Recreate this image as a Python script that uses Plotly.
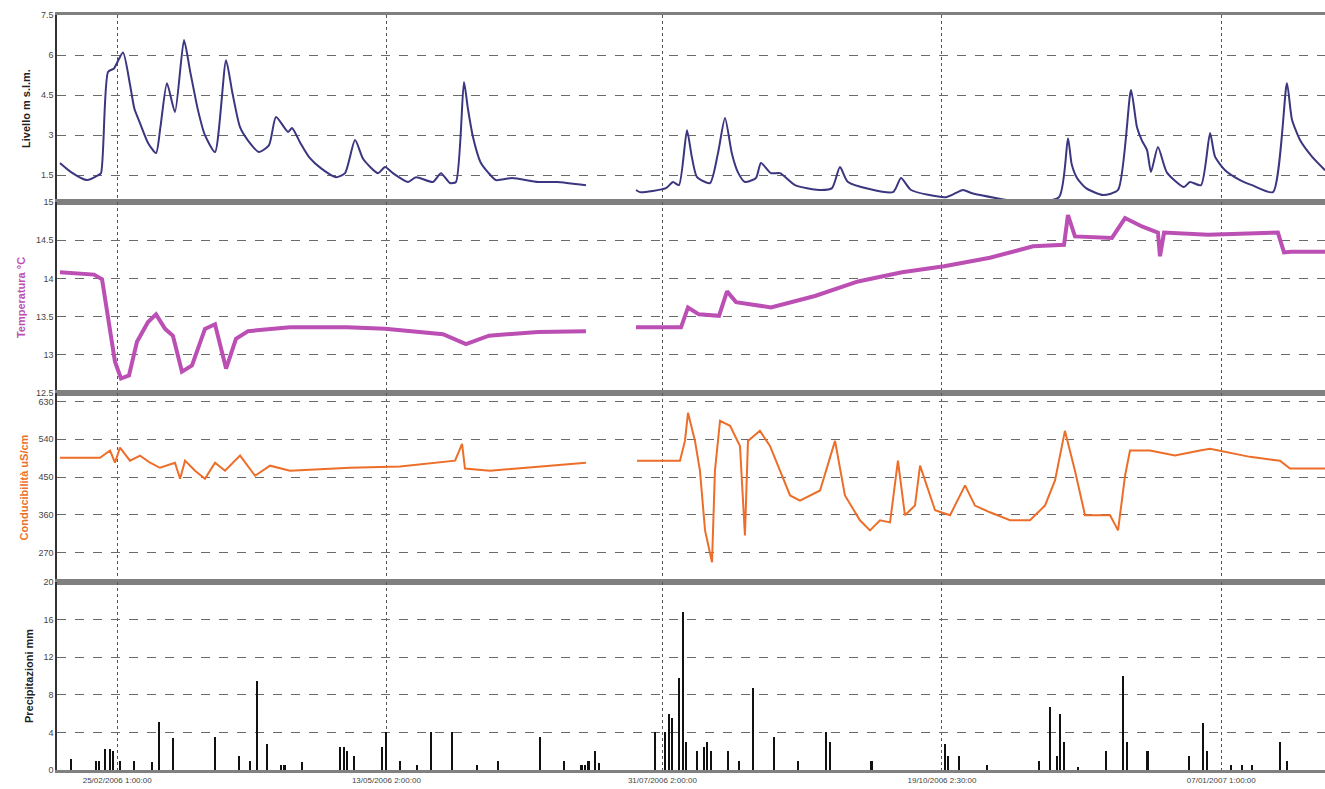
import plotly.graph_objects as go
from plotly.subplots import make_subplots

# ---- Livello (m s.l.m.) ----
liv_date_a = ["2006-02-08 16:00", "2006-02-11 20:00", "2006-02-16 10:00", "2006-02-19 13:00",
              "2006-02-20 10:00", "2006-02-22 10:00", "2006-02-24 03:00", "2006-02-26 17:00",
              "2006-02-28 17:00", "2006-03-01 23:00", "2006-03-03 14:00", "2006-03-05 22:00",
              "2006-03-08 04:00", "2006-03-09 10:00", "2006-03-11 07:00", "2006-03-13 14:00",
              "2006-03-16 04:00", "2006-03-17 22:00", "2006-03-20 04:00", "2006-03-22 04:00",
              "2006-03-25 01:00", "2006-03-28 05:00", "2006-03-30 00:00", "2006-04-01 05:00",
              "2006-04-03 12:00", "2006-04-06 15:00", "2006-04-09 12:00", "2006-04-11 12:00",
              "2006-04-14 23:00", "2006-04-16 02:00", "2006-04-18 12:00", "2006-04-20 23:00",
              "2006-04-24 12:00", "2006-04-28 16:00", "2006-05-01 06:00", "2006-05-04 03:00",
              "2006-05-06 12:00", "2006-05-10 17:00", "2006-05-12 17:00", "2006-05-14 23:00",
              "2006-05-19 07:00", "2006-05-21 14:00", "2006-05-26 10:00", "2006-05-28 17:00",
              "2006-05-31 07:00", "2006-06-02 00:00", "2006-06-04 07:00", "2006-06-05 10:00",
              "2006-06-06 21:00", "2006-06-09 00:00", "2006-06-11 06:00", "2006-06-13 11:00",
              "2006-06-18 01:00", "2006-06-25 12:00", "2006-06-30 22:00", "2006-07-09 05:00"]
liv_val_a = [1.96, 1.62, 1.32, 1.50, 1.58, 5.37, 5.50, 6.10, 4.90, 4.00, 3.45, 2.70,
             2.33, 3.30, 4.95, 3.87, 6.56, 5.40, 3.94, 3.00, 2.37, 5.81, 4.60, 3.30,
             2.80, 2.37, 2.63, 3.68, 3.12, 3.27, 2.70, 2.18, 1.75, 1.43, 1.58, 2.82,
             2.10, 1.58, 1.81, 1.58, 1.25, 1.43, 1.25, 1.58, 1.21, 1.25, 4.99, 4.00,
             2.93, 2.00, 1.60, 1.32, 1.40, 1.25, 1.25, 1.13]
liv_date_b = ["2006-07-23 13:00", "2006-07-24 16:00", "2006-08-01 03:00", "2006-08-03 03:00",
              "2006-08-04 20:00", "2006-08-07 03:00", "2006-08-08 12:00", "2006-08-10 00:00",
              "2006-08-13 17:00", "2006-08-16 00:00", "2006-08-18 00:00", "2006-08-20 00:00",
              "2006-08-21 18:00", "2006-08-23 17:00", "2006-08-26 21:00", "2006-08-28 07:00",
              "2006-08-31 04:00", "2006-09-02 18:00", "2006-09-07 01:00", "2006-09-13 22:00",
              "2006-09-17 15:00", "2006-09-19 22:00", "2006-09-22 05:00", "2006-10-05 02:00",
              "2006-10-07 09:00", "2006-10-10 06:00", "2006-10-20 06:00", "2006-10-25 03:00",
              "2006-10-27 17:00", "2006-11-11 14:00", "2006-11-21 14:00", "2006-11-24 04:00",
              "2006-11-25 06:00", "2006-11-26 18:00", "2006-11-29 08:00", "2006-12-04 05:00",
              "2006-12-08 12:00", "2006-12-12 05:00", "2006-12-13 22:00", "2006-12-15 08:00",
              "2006-12-16 19:00", "2006-12-17 22:00", "2006-12-19 22:00", "2006-12-22 12:00",
              "2006-12-27 09:00", "2006-12-29 02:00", "2007-01-01 06:00", "2007-01-03 20:00",
              "2007-01-05 06:00", "2007-01-08 03:00", "2007-01-12 00:00", "2007-01-15 20:00",
              "2007-01-21 20:00", "2007-01-25 20:00", "2007-01-27 06:00", "2007-01-29 14:00",
              "2007-02-02 00:00", "2007-02-05 18:00"]
liv_val_b = [0.95, 0.87, 1.02, 1.25, 1.13, 3.19, 2.20, 1.43, 1.21, 2.33, 3.64, 2.30,
             1.60, 1.25, 1.40, 1.96, 1.58, 1.58, 1.13, 0.95, 1.02, 1.81, 1.25, 0.87,
             1.40, 0.95, 0.68, 0.95, 0.83, 0.50, 0.68, 2.89, 1.90, 1.40, 1.02, 0.76,
             0.95, 4.69, 3.30, 2.80, 2.44, 1.62, 2.56, 1.60, 1.06, 1.25, 1.13, 3.08,
             2.20, 1.69, 1.35, 1.13, 0.87, 4.95, 3.60, 2.82, 2.20, 1.69]

# ---- Temperatura (°C) ----
tem_date_a = ["2006-02-08 16:00", "2006-02-18 10:00", "2006-02-20 17:00", "2006-02-23 00:00",
              "2006-02-24 10:00", "2006-02-26 03:00", "2006-02-28 10:00", "2006-03-02 17:00",
              "2006-03-05 21:00", "2006-03-08 04:00", "2006-03-10 18:00", "2006-03-13 00:00",
              "2006-03-15 14:00", "2006-03-18 11:00", "2006-03-22 04:00", "2006-03-25 01:00",
              "2006-03-28 05:00", "2006-03-31 01:00", "2006-04-03 12:00", "2006-04-15 12:00",
              "2006-05-01 20:00", "2006-05-12 17:00", "2006-05-29 07:00", "2006-06-04 21:00",
              "2006-06-11 11:00", "2006-06-25 12:00", "2006-07-09 05:00"]
tem_val_a = [14.08, 14.05, 13.99, 13.30, 12.91, 12.69, 12.73, 13.17, 13.43, 13.53, 13.34,
             13.25, 12.78, 12.86, 13.34, 13.40, 12.82, 13.21, 13.31, 13.36, 13.36, 13.34,
             13.27, 13.14, 13.25, 13.30, 13.31]
tem_date_b = ["2006-07-23 13:00", "2006-08-05 10:00", "2006-08-07 10:00", "2006-08-10 13:00",
              "2006-08-16 07:00", "2006-08-18 14:00", "2006-08-21 04:00", "2006-08-31 04:00",
              "2006-09-12 18:00", "2006-09-25 02:00", "2006-10-07 16:00", "2006-10-19 17:00",
              "2006-11-01 20:00", "2006-11-14 04:00", "2006-11-23 01:00", "2006-11-24 04:00",
              "2006-11-26 04:00", "2006-12-06 18:00", "2006-12-10 12:00", "2006-12-15 08:00",
              "2006-12-19 22:00", "2006-12-20 12:00", "2006-12-21 16:00", "2007-01-03 06:00",
              "2007-01-23 06:00", "2007-01-25 00:00", "2007-01-27 00:00", "2007-02-05 18:00"]
tem_val_b = [13.36, 13.36, 13.62, 13.53, 13.51, 13.83, 13.69, 13.62, 13.77, 13.96, 14.08,
             14.16, 14.27, 14.42, 14.44, 14.83, 14.55, 14.53, 14.79, 14.68, 14.60, 14.29,
             14.60, 14.57, 14.60, 14.34, 14.35, 14.35]

# ---- Conducibilità (uS/cm) ----
con_date_a = ["2006-02-08 16:00", "2006-02-20 03:00", "2006-02-23 00:00", "2006-02-24 10:00",
              "2006-02-25 20:00", "2006-02-28 17:00", "2006-03-03 14:00", "2006-03-06 11:00",
              "2006-03-09 07:00", "2006-03-13 14:00", "2006-03-15 01:00", "2006-03-16 11:00",
              "2006-03-19 08:00", "2006-03-22 04:00", "2006-03-25 01:00", "2006-03-27 22:00",
              "2006-04-01 05:00", "2006-04-05 12:00", "2006-04-09 19:00", "2006-04-15 12:00",
              "2006-05-02 16:00", "2006-05-17 00:00", "2006-06-01 18:00", "2006-06-03 18:00",
              "2006-06-04 14:00", "2006-06-11 18:00", "2006-07-09 05:00"]
con_val_a = [496, 496, 513, 484, 520, 489, 501, 484, 472, 484, 446, 489, 465, 446, 484,
             465, 501, 453, 477, 465, 472, 475, 489, 529, 470, 465, 484]
con_date_b = ["2006-07-23 20:00", "2006-08-05 03:00", "2006-08-06 13:00", "2006-08-07 10:00",
              "2006-08-09 10:00", "2006-08-10 20:00", "2006-08-12 07:00", "2006-08-14 07:00",
              "2006-08-15 03:00", "2006-08-16 14:00", "2006-08-19 11:00", "2006-08-22 07:00",
              "2006-08-23 17:00", "2006-08-24 14:00", "2006-08-28 00:00", "2006-08-30 21:00",
              "2006-09-02 18:00", "2006-09-05 15:00", "2006-09-08 11:00", "2006-09-14 05:00",
              "2006-09-18 12:00", "2006-09-21 08:00", "2006-09-25 15:00", "2006-09-28 12:00",
              "2006-10-01 09:00", "2006-10-04 06:00", "2006-10-06 12:00", "2006-10-08 12:00",
              "2006-10-11 09:00", "2006-10-12 20:00", "2006-10-17 03:00", "2006-10-21 10:00",
              "2006-10-25 17:00", "2006-10-28 13:00", "2006-11-01 20:00", "2006-11-07 14:00",
              "2006-11-13 07:00", "2006-11-17 14:00", "2006-11-20 11:00", "2006-11-23 07:00",
              "2006-11-26 04:00", "2006-11-29 01:00", "2006-12-06 05:00", "2006-12-08 12:00",
              "2006-12-10 12:00", "2006-12-11 22:00", "2006-12-17 15:00", "2006-12-24 19:00",
              "2006-12-31 23:00", "2007-01-03 20:00", "2007-01-15 06:00", "2007-01-23 20:00",
              "2007-01-26 17:00", "2007-02-05 18:00"]
con_val_b = [489, 489, 536, 603, 536, 465, 323, 247, 465, 584, 572, 524, 311, 536, 560,
             524, 465, 406, 394, 418, 536, 406, 347, 323, 347, 342, 489, 359, 382, 477,
             371, 359, 430, 382, 366, 347, 347, 382, 442, 560, 465, 359, 359, 323, 453,
             513, 513, 501, 513, 517, 498, 489, 470, 470]

# ---- Precipitazioni (mm) ----
pre_date = ["2006-02-12", "2006-02-19", "2006-02-20", "2006-02-21 13:00", "2006-02-23",
            "2006-02-23 20:00", "2006-02-25 20:00", "2006-03-02", "2006-03-07", "2006-03-09",
            "2006-03-13", "2006-03-25", "2006-04-01", "2006-04-04", "2006-04-06",
            "2006-04-09", "2006-04-13", "2006-04-14", "2006-04-19", "2006-04-30",
            "2006-05-01", "2006-05-02", "2006-05-04", "2006-05-12", "2006-05-13",
            "2006-05-17", "2006-05-22", "2006-05-26", "2006-06-01", "2006-06-08",
            "2006-06-14", "2006-06-26", "2006-07-03", "2006-07-08", "2006-07-09",
            "2006-07-10", "2006-07-12", "2006-07-13", "2006-07-29", "2006-08-01",
            "2006-08-02", "2006-08-03", "2006-08-05", "2006-08-06", "2006-08-07",
            "2006-08-10", "2006-08-12", "2006-08-13", "2006-08-14", "2006-08-19",
            "2006-08-22", "2006-08-26", "2006-09-01", "2006-09-08", "2006-09-16",
            "2006-09-17", "2006-09-29", "2006-10-20", "2006-10-21", "2006-10-24",
            "2006-11-01", "2006-11-16", "2006-11-19", "2006-11-21", "2006-11-22",
            "2006-11-23", "2006-11-27", "2006-12-05", "2006-12-10", "2006-12-11",
            "2006-12-17", "2006-12-29", "2007-01-02", "2007-01-03", "2007-01-10",
            "2007-01-13", "2007-01-16", "2007-01-24", "2007-01-26"]
pre_val = [1.2, 1.0, 1.0, 2.2, 2.2, 2.0, 1.0, 1.0, 0.8, 5.1,
           3.4, 3.5, 1.5, 1.0, 9.5, 2.8, 0.5, 0.5, 0.8, 2.5,
           2.5, 2.0, 1.5, 2.5, 4.0, 1.0, 0.5, 4.0, 4.0, 0.5,
           1.0, 3.5, 1.0, 0.5, 0.5, 1.0, 2.0, 0.7, 4.0, 4.0,
           6.0, 5.5, 9.8, 16.8, 3.0, 2.0, 2.5, 3.0, 2.0, 2.0,
           1.0, 8.7, 3.5, 1.0, 4.0, 3.0, 1.0, 2.8, 1.5, 1.5,
           0.5, 1.0, 6.7, 1.5, 6.0, 3.0, 0.3, 2.0, 10.0, 3.0,
           2.0, 1.5, 5.0, 2.0, 0.5, 0.5, 0.5, 3.0, 1.0]

tick_dates = ["2006-02-25 01:00", "2006-05-13 02:00", "2006-07-31 02:00",
              "2006-10-19 02:30", "2007-01-07 01:00"]
tick_text = ["25/02/2006 1:00:00", "13/05/2006 2:00:00", "31/07/2006 2:00:00",
             "19/10/2006 2:30:00", "07/01/2007 1:00:00"]

C_LIV = "#3b3680"
C_TEM = "#bb4fb4"
C_CON = "#ec6e28"
C_PRE = "#111111"

fig = make_subplots(rows=4, cols=1, shared_xaxes=True, vertical_spacing=0)

for d, v in ((liv_date_a, liv_val_a), (liv_date_b, liv_val_b)):
    fig.add_trace(go.Scatter(x=d, y=v, mode="lines",
                             line=dict(color=C_LIV, width=2, shape="spline", smoothing=0.6),
                             showlegend=False), row=1, col=1)
for d, v in ((tem_date_a, tem_val_a), (tem_date_b, tem_val_b)):
    fig.add_trace(go.Scatter(x=d, y=v, mode="lines", line=dict(color=C_TEM, width=4),
                             showlegend=False), row=2, col=1)
for d, v in ((con_date_a, con_val_a), (con_date_b, con_val_b)):
    fig.add_trace(go.Scatter(x=d, y=v, mode="lines", line=dict(color=C_CON, width=2),
                             showlegend=False), row=3, col=1)
fig.add_trace(go.Bar(x=pre_date, y=pre_val, width=0.45 * 86400000,
                     marker=dict(color=C_PRE, line=dict(width=0)), showlegend=False),
              row=4, col=1)

x_range = ["2006-02-07 19:40", "2007-02-05 17:30"]
domains = [[0.7523, 1.0], [0.4993, 0.7523], [0.2490, 0.4993], [0.0, 0.2490]]
y_cfg = [
    dict(title="Livello m s.l.m.", color="#222222", rng=[0.5, 7.5],
         tv=[1.5, 3, 4.5, 6, 7.5], tt=["1.5", "3", "4.5", "6", "7.5"]),
    dict(title="Temperatura °C", color=C_TEM, rng=[12.5, 15],
         tv=[12.5, 13, 13.5, 14, 14.5, 15], tt=["12.5", "13", "13.5", "14", "14.5", "15"]),
    dict(title="Conducibilità uS/cm", color=C_CON, rng=[200, 650],
         tv=[270, 360, 450, 540, 630], tt=["270", "360", "450", "540", "630"]),
    dict(title="Precipitazioni mm", color="#222222", rng=[0, 20],
         tv=[0, 4, 8, 12, 16, 20], tt=["0", "4", "8", "12", "16", "20"]),
]

for i, cfg in enumerate(y_cfg, start=1):
    fig.update_yaxes(
        row=i, col=1, domain=domains[i - 1], range=cfg["rng"],
        tickmode="array", tickvals=cfg["tv"], ticktext=cfg["tt"],
        tickfont=dict(size=9, color="#444444", family="Liberation Sans"),
        title=dict(text=cfg["title"], standoff=8,
                   font=dict(size=11, color=cfg["color"], family="Liberation Sans",
                             weight="bold")),
        showgrid=True, gridcolor="#6a6a6a", gridwidth=1.3, griddash="dash",
        showline=True, linecolor="#333333", linewidth=1.5,
        zeroline=False, ticks="", fixedrange=True,
    )
    fig.update_xaxes(
        row=i, col=1, type="date", range=x_range,
        tickmode="array", tickvals=tick_dates, ticktext=tick_text,
        showticklabels=(i == 4),
        tickfont=dict(size=8, color="#444444", family="Liberation Sans"),
        showgrid=True, gridcolor="#555555", gridwidth=1, griddash="dot",
        showline=True, mirror=True, linecolor="#808080", linewidth=3,
        zeroline=False, ticks="",
    )

fig.update_layout(
    width=1325, height=789,
    margin=dict(l=57, r=0, t=15, b=19),
    paper_bgcolor="white", plot_bgcolor="white",
    bargap=0, showlegend=False,
)

fig.write_html("out.html")
